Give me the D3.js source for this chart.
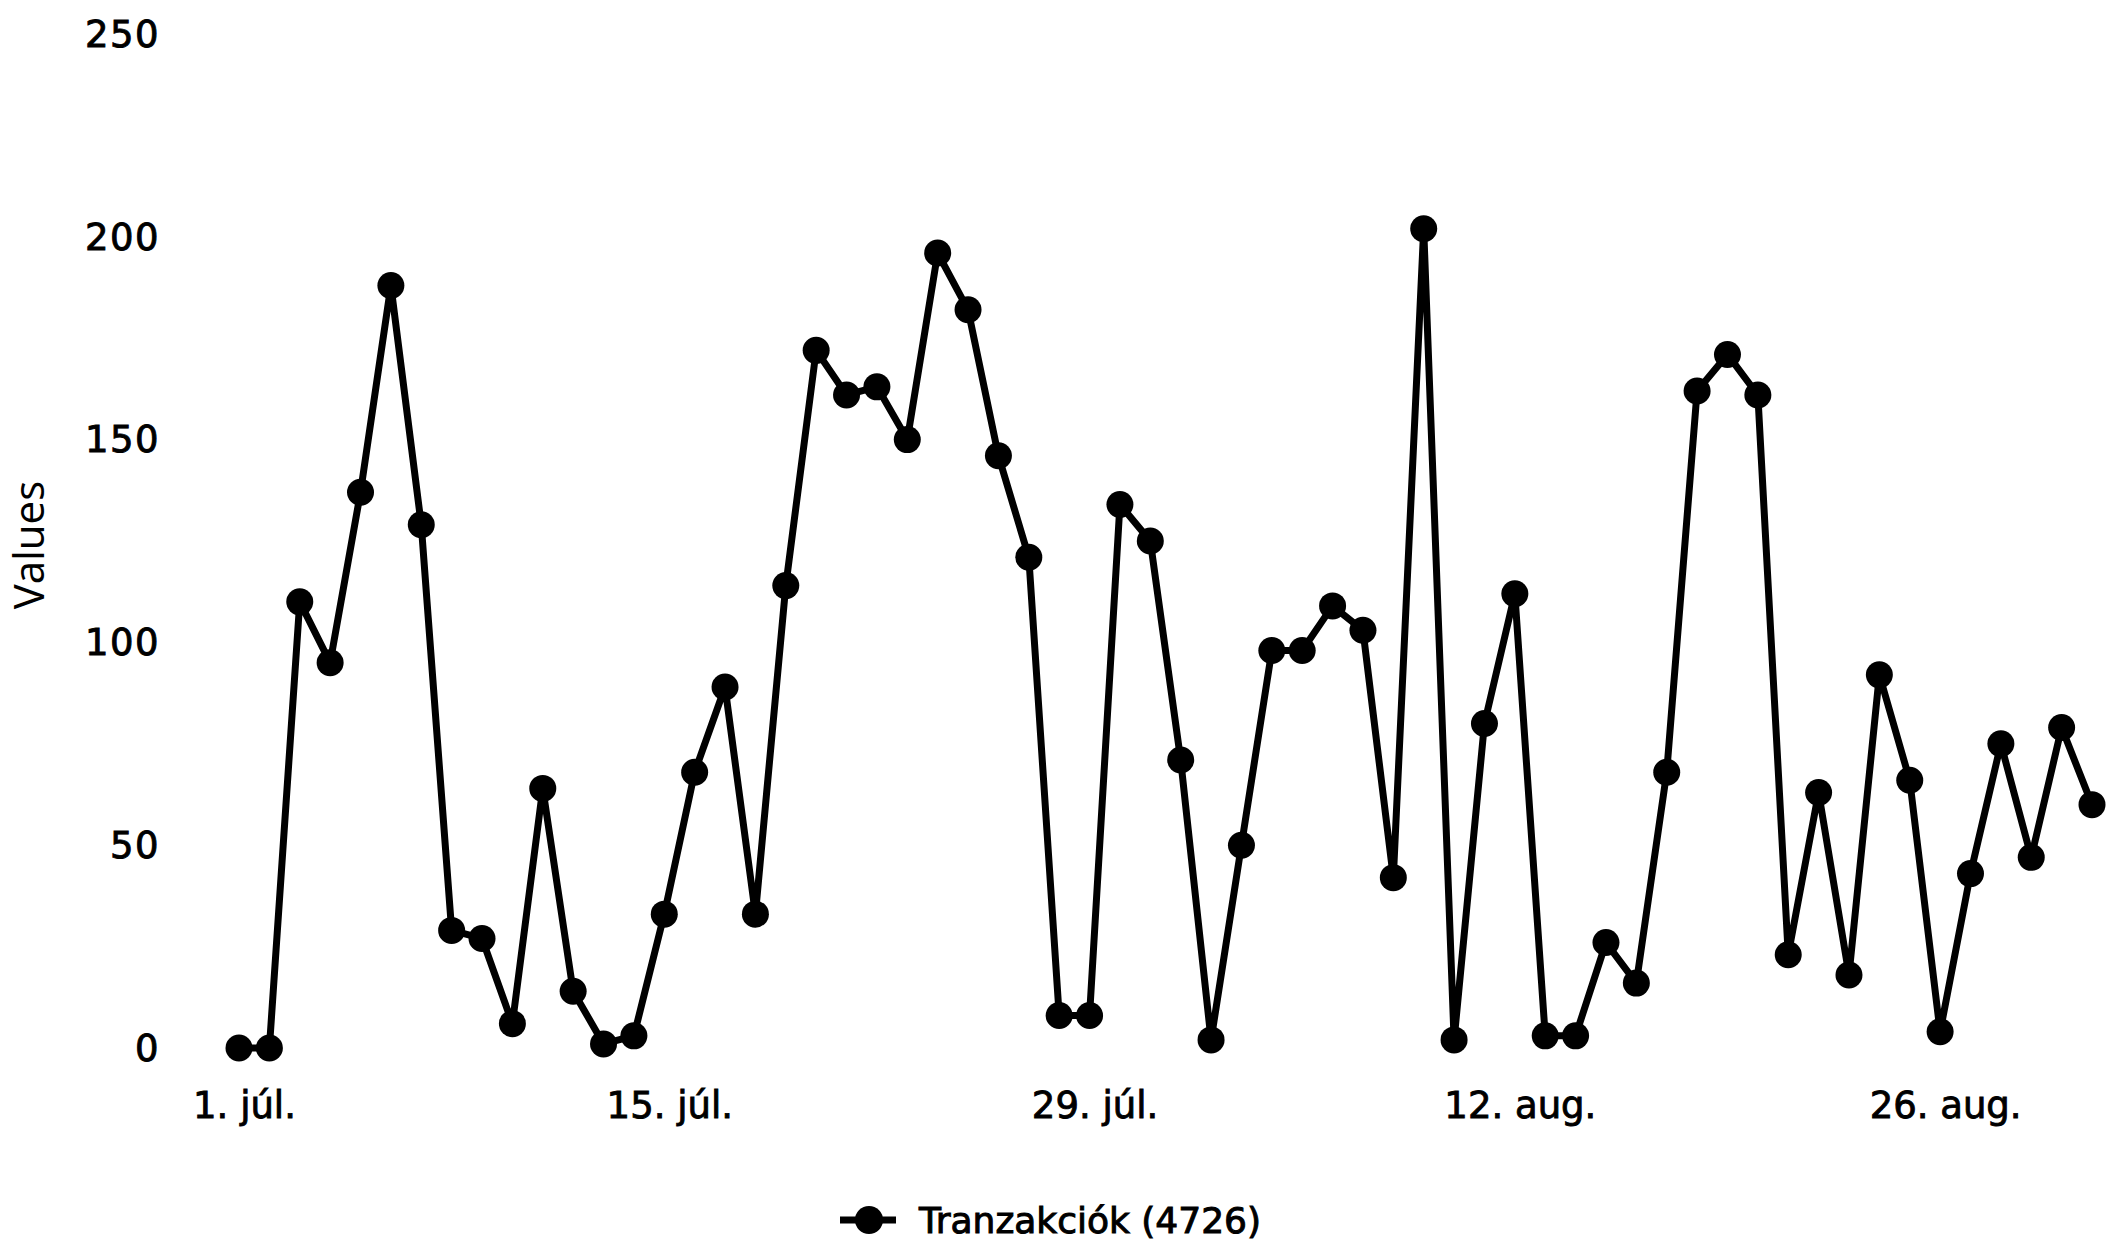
<!DOCTYPE html>
<html>
<head>
<meta charset="utf-8">
<script src="https://cdn.jsdelivr.net/npm/d3@7"></script>
<style>
  html, body { margin: 0; padding: 0; background: #fff; }
  svg { display: block; }
</style>
</head>
<body>
<svg id="chart" width="2112" height="1240"></svg>
<script>
const dates = [
  "2013-07-01","2013-07-02","2013-07-03","2013-07-04","2013-07-05","2013-07-06","2013-07-07","2013-07-08",
  "2013-07-09","2013-07-10","2013-07-11","2013-07-12","2013-07-13","2013-07-14","2013-07-15","2013-07-16",
  "2013-07-17","2013-07-18","2013-07-19","2013-07-20","2013-07-21","2013-07-22","2013-07-23","2013-07-24",
  "2013-07-25","2013-07-26","2013-07-27","2013-07-28","2013-07-29","2013-07-30","2013-07-31","2013-08-01",
  "2013-08-02","2013-08-03","2013-08-04","2013-08-05","2013-08-06","2013-08-07","2013-08-08","2013-08-09",
  "2013-08-10","2013-08-11","2013-08-12","2013-08-13","2013-08-14","2013-08-15","2013-08-16","2013-08-17",
  "2013-08-18","2013-08-19","2013-08-20","2013-08-21","2013-08-22","2013-08-23","2013-08-24","2013-08-25",
  "2013-08-26","2013-08-27","2013-08-28","2013-08-29","2013-08-30","2013-08-31"
];
const values = [
  0, 0, 110, 95, 137, 188, 129, 29, 27, 6,
  64, 14, 1, 3, 33, 68, 89, 33, 114, 172,
  161, 163, 150, 196, 182, 146, 121, 8, 8, 134,
  125, 71, 2, 50, 98, 98, 109, 103, 42, 202,
  2, 80, 112, 3, 3, 26, 16, 68, 162, 171,
  161, 23, 63, 18, 92, 66, 4, 43, 75, 47,
  79, 60
];
const xTickDates = ["2013-07-01","2013-07-15","2013-07-29","2013-08-12","2013-08-26"];
const xTickLabels = ["1. júl.","15. júl.","29. júl.","12. aug.","26. aug."];
const yTicks = [0, 50, 100, 150, 200, 250];
const seriesName = "Tranzakciók (4726)";
const yTitle = "Values";

const parse = d3.timeParse("%Y-%m-%d");
const data = dates.map((d, i) => ({ date: parse(d), value: values[i] }));

const svg = d3.select("#chart");
const tickFont = "'DejaVu Sans', Verdana, sans-serif";

const x = d3.scaleTime()
  .domain([parse(dates[0]), parse(dates[dates.length - 1])])
  .range([239, 2092]);
const y = d3.scaleLinear().domain([0, 250]).range([1048, 34]);

// Y axis (labels only)
const yAxis = d3.axisLeft(y).tickValues(yTicks).tickSize(0).tickPadding(0);
const gy = svg.append("g").attr("transform", "translate(160,0)").call(yAxis);
gy.select(".domain").remove();
gy.selectAll("text")
  .attr("font-family", tickFont)
  .attr("font-size", 37)
  .attr("letter-spacing", 1.5)
  .attr("fill", "#000")
  .attr("stroke", "#000")
  .attr("stroke-width", 0.9)
  .attr("dy", "0.33em");

// X axis (labels only)
const tickMap = new Map(xTickDates.map((d, i) => [+parse(d), xTickLabels[i]]));
const xAxis = d3.axisBottom(x)
  .tickValues(xTickDates.map(parse))
  .tickFormat(d => tickMap.get(+d))
  .tickSize(0).tickPadding(44);
const gx = svg.append("g").attr("transform", "translate(5,1048)").call(xAxis);
gx.select(".domain").remove();
gx.selectAll("text")
  .attr("font-family", tickFont)
  .attr("font-size", 37)
  .attr("fill", "#000")
  .attr("stroke", "#000")
  .attr("stroke-width", 0.9);

// Y title
svg.append("text")
  .attr("transform", "translate(44,545) rotate(-90)")
  .attr("text-anchor", "middle")
  .attr("font-family", "'Open Sans', sans-serif")
  .attr("font-size", 42)
  .attr("fill", "#000")
  .text(yTitle);

// Line
const line = d3.line().x(d => x(d.date)).y(d => y(d.value));
svg.append("path")
  .datum(data)
  .attr("d", line)
  .attr("fill", "none")
  .attr("stroke", "#000")
  .attr("stroke-width", 7)
  .attr("stroke-linejoin", "round");

// Markers
svg.append("g").selectAll("circle")
  .data(data)
  .join("circle")
  .attr("cx", d => x(d.date))
  .attr("cy", d => y(d.value))
  .attr("r", 13.5)
  .attr("fill", "#000");

// Legend
const lg = svg.append("g").attr("transform", "translate(0,1220)");
lg.append("line").attr("x1", 840).attr("x2", 896).attr("y1", 0).attr("y2", 0)
  .attr("stroke", "#000").attr("stroke-width", 7);
lg.append("circle").attr("cx", 869).attr("cy", 0).attr("r", 14).attr("fill", "#000");
lg.append("text")
  .attr("x", 919).attr("y", 0).attr("dy", "0.36em")
  .attr("font-family", tickFont)
  .attr("font-size", 36)
  .attr("fill", "#000")
  .attr("stroke", "#000")
  .attr("stroke-width", 1)
  .text(seriesName);
</script>
</body>
</html>
